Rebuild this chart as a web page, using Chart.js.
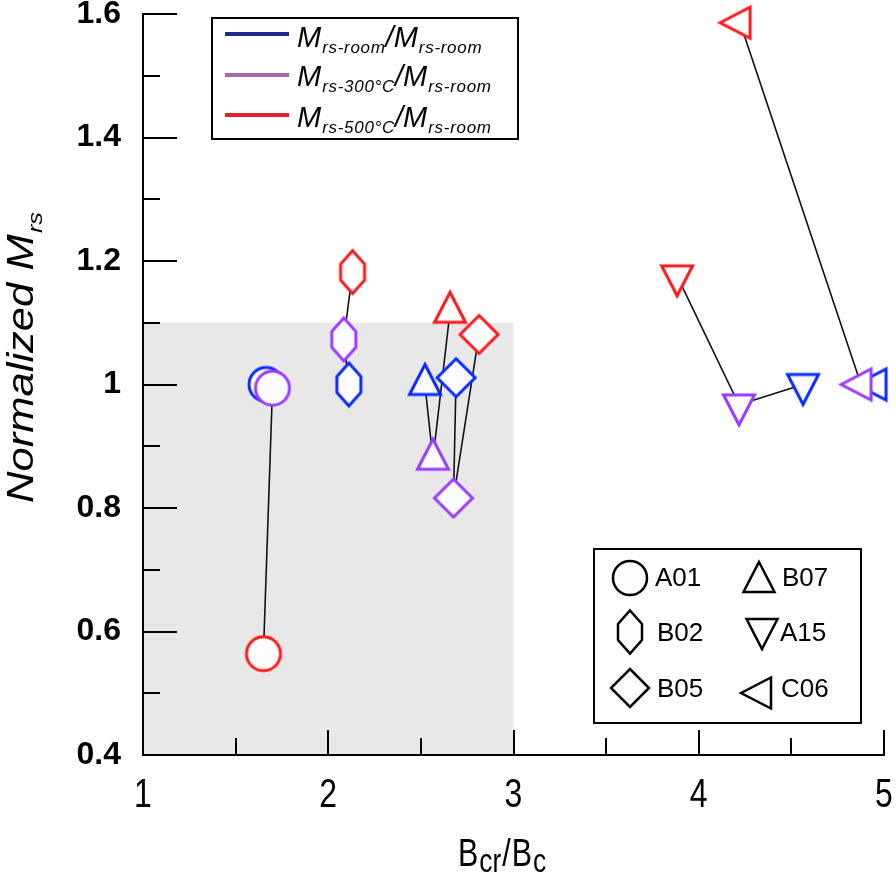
<!DOCTYPE html>
<html>
<head>
<meta charset="utf-8">
<script src="https://cdn.jsdelivr.net/npm/chart.js@4.4.1/dist/chart.umd.min.js"></script>
<style>
  html, body { margin: 0; padding: 0; background: #fff; }
  #chartMrs { display: block; }
</style>
</head>
<body>
<canvas id="chartMrs" width="896" height="877"></canvas>
<script>
// samples and their marker shapes
const samples = ['A01', 'B02', 'B05', 'B07', 'A15', 'C06'];
const shapes = ['circle', 'hex', 'diamond', 'triUp', 'triDown', 'triLeft'];

// Bcr/Bc and normalized Mrs at room temperature, after 300 °C and after 500 °C
const bcrRoom = [1.664, 2.111, 2.690, 2.522, 4.563, 4.957];
const mrsRoom = [1.0, 1.0, 1.011, 1.0, 1.0, 1.0];
const bcr300 = [1.699, 2.084, 2.676, 2.565, 4.217, 4.876];
const mrs300 = [0.994, 1.073, 0.816, 0.879, 0.967, 1.0];
const bcr500 = [1.650, 2.131, 2.814, 2.657, 3.883, 4.223];
const mrs500 = [0.564, 1.182, 1.081, 1.117, 1.176, 1.586];

// axes
const xTicks = [1, 2, 3, 4, 5];
const yTicks = [0.4, 0.6, 0.8, 1, 1.2, 1.4, 1.6];

// shaded box
const shadeX = [1, 3];
const shadeY = [0.4, 1.1];

const FONT = '"Liberation Sans", Arial, sans-serif';

function shapePath(g, shape) {
  g.beginPath();
  if (shape === 'circle') {
    g.arc(0, 0, 17, 0, Math.PI * 2);
  } else if (shape === 'hex') {
    g.moveTo(0, -21.5); g.lineTo(12, -8); g.lineTo(12, 8);
    g.lineTo(0, 21.5); g.lineTo(-12, 8); g.lineTo(-12, -8);
  } else if (shape === 'diamond') {
    g.moveTo(0, -19); g.lineTo(19, 0); g.lineTo(0, 19); g.lineTo(-19, 0);
  } else if (shape === 'triUp') {
    g.moveTo(0, -20); g.lineTo(15.5, 10); g.lineTo(-15.5, 10);
  } else if (shape === 'triDown') {
    g.moveTo(0, 20); g.lineTo(15.5, -10); g.lineTo(-15.5, -10);
  } else if (shape === 'triLeft') {
    g.moveTo(-20, 0); g.lineTo(10, -15.5); g.lineTo(10, 15.5);
  }
  g.closePath();
}

function makeMarker(shape, color, lw) {
  const c = document.createElement('canvas');
  c.width = 56; c.height = 56;
  const g = c.getContext('2d');
  g.translate(28, 28);
  shapePath(g, shape);
  g.fillStyle = '#fdfcff';
  g.fill();
  g.lineWidth = lw;
  g.lineJoin = 'miter';
  g.strokeStyle = color;
  g.stroke();
  return c;
}

const steps = [
  { xs: bcrRoom, ys: mrsRoom, color: '#0a2bff', order: 3 },
  { xs: bcr300, ys: mrs300, color: '#9a3cff', order: 2 },
  { xs: bcr500, ys: mrs500, color: '#ff1a1a', order: 1 }
];

const datasets = [];
steps.forEach(s => {
  datasets.push({
    data: samples.map((n, i) => ({ x: s.xs[i], y: s.ys[i] })),
    pointStyle: shapes.map(sh => makeMarker(sh, s.color, 3)),
    // image markers ignore the radius; keep it small so the layout adds no padding
    pointRadius: 1,
    pointBorderWidth: 0,
    showLine: false,
    clip: false,
    order: s.order
  });
});
samples.forEach((n, i) => {
  datasets.push({
    data: steps.map(s => ({ x: s.xs[i], y: s.ys[i] })),
    showLine: true,
    borderColor: '#111',
    borderWidth: 1.6,
    pointRadius: 0,
    clip: false,
    order: 5
  });
});

function line(ctx, x1, y1, x2, y2) {
  ctx.beginPath(); ctx.moveTo(x1, y1); ctx.lineTo(x2, y2); ctx.stroke();
}

// narrow text: regular font squeezed horizontally
function narrowText(ctx, text, x, y, size, sx, align) {
  ctx.save();
  ctx.translate(x, y);
  ctx.scale(sx, 1);
  ctx.font = size + 'px ' + FONT;
  ctx.textAlign = align || 'left';
  ctx.fillText(text, 0, 0);
  const w = ctx.measureText(text).width * sx;
  ctx.restore();
  return w;
}

const decor = {
  id: 'decor',
  beforeDraw(chart) {
    const { ctx, scales: { x, y } } = chart;
    const l = x.getPixelForValue(shadeX[0]), r = x.getPixelForValue(shadeX[1]);
    const t = y.getPixelForValue(shadeY[1]), b = y.getPixelForValue(shadeY[0]);
    ctx.save();
    ctx.fillStyle = '#e8e8e8';
    ctx.fillRect(l, t, r - l, b - t);
    ctx.restore();
  },
  beforeDatasetsDraw(chart) {
    // inward ticks
    const { ctx, chartArea: ca, scales: { x, y } } = chart;
    ctx.save();
    ctx.strokeStyle = '#000';
    ctx.lineWidth = 2;
    yTicks.forEach((v, i) => {
      const py = Math.round(y.getPixelForValue(v));
      if (i > 0) line(ctx, ca.left, py, ca.left + 34, py);
      if (i < yTicks.length - 1) {
        const pm = Math.round(y.getPixelForValue((v + yTicks[i + 1]) / 2));
        line(ctx, ca.left, pm, ca.left + 17, pm);
      }
    });
    xTicks.forEach((v, i) => {
      const px = Math.round(x.getPixelForValue(v));
      if (i > 0) line(ctx, px, ca.bottom, px, ca.bottom - 25);
      if (i < xTicks.length - 1) {
        const pm = Math.round(x.getPixelForValue((v + xTicks[i + 1]) / 2));
        line(ctx, pm, ca.bottom, pm, ca.bottom - 17);
      }
    });
    ctx.restore();
  },
  afterDraw(chart) {
    const { ctx, scales: { x } } = chart;
    ctx.save();
    ctx.fillStyle = '#000';
    ctx.textBaseline = 'alphabetic';

    // x tick labels (narrow face)
    xTicks.forEach(v => {
      narrowText(ctx, String(v), x.getPixelForValue(v), 807, 40, 0.8, 'center');
    });

    // y title
    ctx.save();
    ctx.translate(33, 503);
    ctx.rotate(-Math.PI / 2);
    ctx.scale(1.21, 1);
    ctx.font = 'italic 36px ' + FONT;
    ctx.fillText('Normalized M', 0, 0);
    const wy = ctx.measureText('Normalized M').width;
    ctx.font = 'italic 21px ' + FONT;
    ctx.fillText('rs', wy + 1, 9);
    ctx.restore();

    // x title
    const parts = [['B', 38, 0], ['cr', 33, 6], ['/', 38, 0], ['B', 38, 0], ['c', 33, 6]];
    let tx = 458;
    parts.forEach(p => {
      tx += narrowText(ctx, p[0], tx, 866 + p[2], p[1], 0.8) + 1;
    });

    // top legend
    ctx.fillStyle = '#fff';
    ctx.fillRect(212, 18, 306, 121);
    ctx.strokeStyle = '#000';
    ctx.lineWidth = 2;
    ctx.strokeRect(212, 18, 306, 121);
    const legLines = [
      { color: '#1f2a8c', y: 34, base: 47, sub: 'rs-room' },
      { color: '#a46aa6', y: 75, base: 86, sub: 'rs-300°C' },
      { color: '#e3202b', y: 115, base: 127, sub: 'rs-500°C' }
    ];
    legLines.forEach(it => {
      ctx.strokeStyle = it.color;
      ctx.lineWidth = 4;
      line(ctx, 225, it.y, 289, it.y);
      ctx.fillStyle = '#000';
      let lx = 297;
      ctx.font = 'italic 29px ' + FONT;
      ctx.fillText('M', lx, it.base); lx += ctx.measureText('M').width + 1;
      ctx.font = 'italic 17px ' + FONT;
      ctx.letterSpacing = '0.7px';
      ctx.fillText(it.sub, lx, it.base + 6); lx += ctx.measureText(it.sub).width;
      ctx.letterSpacing = '0px';
      ctx.font = 'italic 29px ' + FONT;
      ctx.fillText('/M', lx, it.base); lx += ctx.measureText('/M').width + 1;
      ctx.font = 'italic 17px ' + FONT;
      ctx.letterSpacing = '0.7px';
      ctx.fillText('rs-room', lx, it.base + 6);
      ctx.letterSpacing = '0px';
    });

    // sample legend
    ctx.fillStyle = '#fff';
    ctx.fillRect(594, 549, 267, 174);
    ctx.strokeStyle = '#000';
    ctx.lineWidth = 2;
    ctx.strokeRect(594, 549, 267, 174);
    const legPos = [[630, 578, 655, 586], [630, 632, 657, 641], [630, 688, 657, 697],
                    [759, 582, 782, 586], [762, 629, 780, 641], [761, 693, 781, 697]];
    const blackMarks = shapes.map(sh => makeMarker(sh, '#000', 2.5));
    ctx.font = '26px ' + FONT;
    samples.forEach((n, i) => {
      const p = legPos[i];
      ctx.drawImage(blackMarks[i], p[0] - 28, p[1] - 28);
      ctx.fillStyle = '#000';
      ctx.fillText(n, p[2], p[3]);
    });
    ctx.restore();
  }
};

new Chart(document.getElementById('chartMrs'), {
  type: 'scatter',
  data: { datasets: datasets },
  options: {
    responsive: false,
    animation: false,
    layout: { padding: { top: 14, right: 12, left: 0, bottom: 0 } },
    plugins: { legend: { display: false }, tooltip: { enabled: false } },
    scales: {
      x: {
        type: 'linear',
        min: 1, max: 5,
        afterBuildTicks: s => { s.ticks = xTicks.map(v => ({ value: v })); },
        afterFit: s => { s.height = 122; s.paddingLeft = 0; s.paddingRight = 0; },
        grid: { display: false, drawTicks: false },
        border: { display: true, color: '#000', width: 2 },
        ticks: { display: false }
      },
      y: {
        type: 'linear',
        min: 0.4, max: 1.6,
        afterBuildTicks: s => { s.ticks = yTicks.map(v => ({ value: v })); },
        afterFit: s => { s.width = 143; s.paddingTop = 0; s.paddingBottom = 0; },
        grid: { display: false, drawTicks: false },
        border: { display: true, color: '#000', width: 2 },
        ticks: { color: '#000', padding: 22, font: { family: FONT, size: 32, weight: 'bold' }, callback: v => String(v) }
      }
    }
  },
  plugins: [decor]
});
</script>
</body>
</html>
